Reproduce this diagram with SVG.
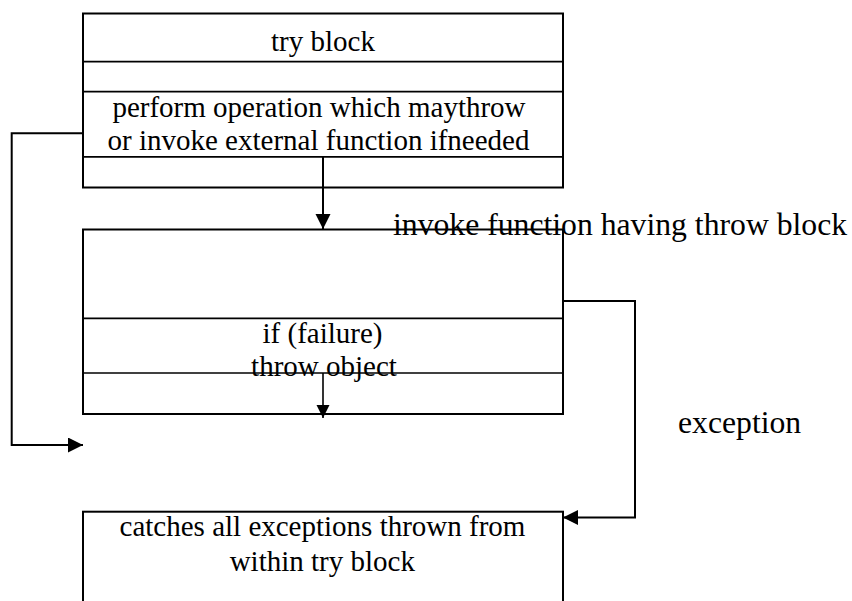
<svg xmlns="http://www.w3.org/2000/svg" width="852" height="601" viewBox="0 0 852 601">
<style>
  .box { fill: none; stroke: #000; stroke-width: 2; }
  .sep { stroke: #000; stroke-width: 1.7; }
  .conn { fill: none; stroke: #000; stroke-width: 2; }
  .t { font-family: "Liberation Serif", "Times New Roman", serif; font-size: 29px; fill: #000; text-anchor: middle; }
  .lbl { font-family: "Liberation Serif", "Times New Roman", serif; font-size: 31.7px; fill: #000; }
</style>
<defs>
  <marker id="arr" markerUnits="userSpaceOnUse" markerWidth="16" markerHeight="16" refX="15" refY="7.5" orient="auto">
    <path d="M0,0 L15,7.5 L0,15 z" fill="#000"/>
  </marker>
  <marker id="arrSmall" markerUnits="userSpaceOnUse" markerWidth="14" markerHeight="14" refX="13" refY="6.5" orient="auto">
    <path d="M0,0 L13,6.5 L0,13 z" fill="#000"/>
  </marker>
</defs>
<rect width="852" height="601" fill="#fff"/>

<g id="labels">
  <text class="lbl" x="393" y="235">invoke function having throw block</text>
  <text class="lbl" x="678" y="433">exception</text>
</g>

<g id="try-block">
  <rect class="box" x="83" y="13.5" width="480" height="174"/>
  <line class="sep" x1="83" y1="61.7" x2="563" y2="61.7"/>
  <line class="sep" x1="83" y1="91.7" x2="563" y2="91.7"/>
  <line class="sep" x1="83" y1="156.8" x2="563" y2="156.8"/>
  <text class="t" x="323" y="50.5">try block</text>
  <text class="t" x="319" y="116.5">perform operation which maythrow</text>
  <text class="t" x="318.5" y="149.5">or invoke external function ifneeded</text>
</g>

<g id="throw-function">
  <text class="t" x="322.5" y="343">if (failure)</text>
  <text class="t" x="324" y="375.5">throw object</text>
  <rect class="box" x="83" y="229.5" width="480" height="184.5"/>
  <line class="sep" x1="83" y1="318.3" x2="563" y2="318.3"/>
  <line class="sep" x1="83" y1="373" x2="563" y2="373"/>
</g>

<g id="catch-block">
  <rect class="box" x="83" y="511.7" width="480" height="120"/>
  <text class="t" x="322.5" y="536">catches all exceptions thrown from</text>
  <text class="t" x="322.3" y="570.5">within try block</text>
</g>

<g id="connectors">
  <line class="conn" x1="323" y1="157" x2="323" y2="229" marker-end="url(#arr)"/>
  <polyline class="conn" points="83,133.3 11.7,133.3 11.7,445 83,445" marker-end="url(#arr)"/>
  <polyline class="conn" points="563,301 635,301 635,517.5 563,517.5" marker-end="url(#arr)"/>
  <line class="conn" style="stroke-width:1.6" x1="323" y1="373" x2="323" y2="418" marker-end="url(#arrSmall)"/>
</g>
</svg>
